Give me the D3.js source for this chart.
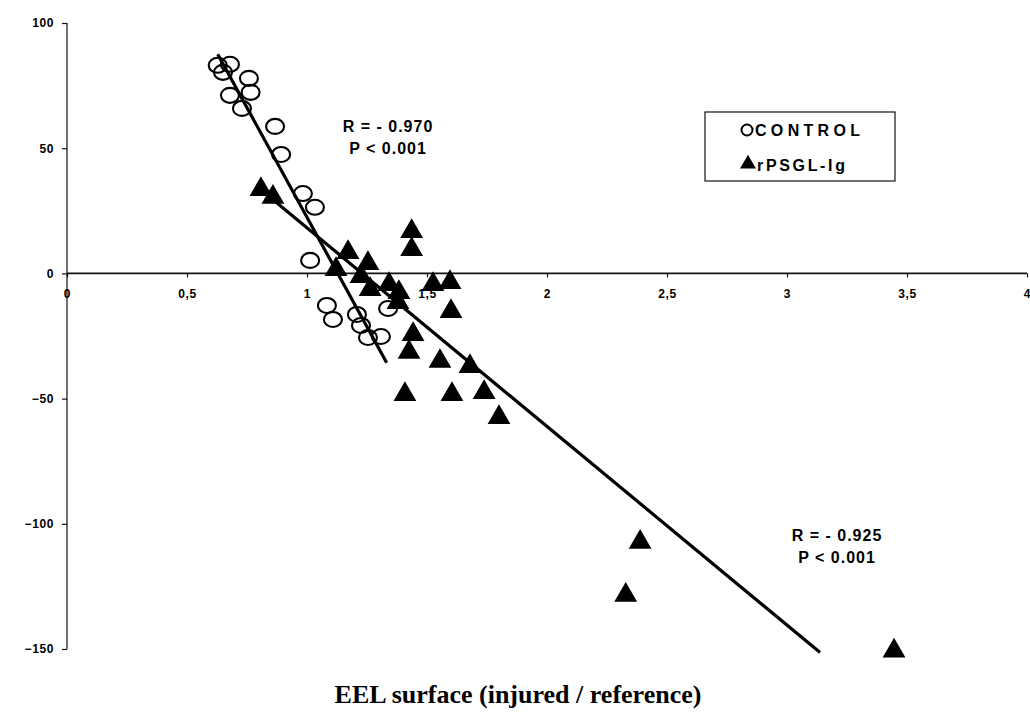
<!DOCTYPE html>
<html>
<head>
<meta charset="utf-8">
<script src="https://cdn.jsdelivr.net/npm/d3@7"></script>
<style>
  html, body { margin: 0; padding: 0; background: #fff; }
  svg { display: block; }
</style>
</head>
<body>
<svg id="chart" width="1030" height="719"></svg>
<script>
// ---- data ----
const controlX = [0.628, 0.679, 0.650, 0.758, 0.679, 0.765, 0.729, 0.867, 0.892, 0.983, 1.033, 1.013, 1.083, 1.108, 1.208, 1.225, 1.254, 1.308, 1.338];
const controlY = [83.1, 83.5, 80.3, 77.9, 71.1, 72.3, 65.9, 58.7, 47.5, 31.9, 26.4, 5.2, -12.8, -18.4, -16.4, -20.8, -25.6, -25.2, -14.0];
const psglX = [0.808, 0.858, 1.171, 1.121, 1.254, 1.225, 1.263, 1.342, 1.383, 1.379, 1.436, 1.436, 1.525, 1.596, 1.600, 1.442, 1.425, 1.554, 1.679, 1.408, 1.604, 1.738, 1.800, 2.388, 2.328, 3.446];
const psglY = [33.5, 30.4, 8.4, 1.6, 4.0, -1.2, -6.4, -4.4, -7.6, -11.6, 16.8, 9.6, -4.4, -3.6, -15.2, -24.4, -31.5, -35.1, -37.1, -48.3, -48.3, -47.5, -57.5, -107.3, -128.5, -150.8];
// regression line endpoints [x, y]
const controlFit = [[0.628, 87.5], [1.332, -35.7]];
const psglFit = [[0.792, 34.7], [3.138, -151.4]];
const xTicks = [0, 0.5, 1, 1.5, 2, 2.5, 3, 3.5, 4];
const xTickLabels = ["0", "0,5", "1", "1,5", "2", "2,5", "3", "3,5", "4"];
const yTicks = [100, 50, 0, -50, -100, -150];
const seriesNames = ["CONTROL", "rPSGL-Ig"];
const stats1 = ["R = - 0.970", "P < 0.001"];
const stats2 = ["R = - 0.925", "P < 0.001"];
const xTitle = "EEL surface (injured / reference)";

// ---- scales ----
const svg = d3.select("#chart");
const x = d3.scaleLinear().domain([0, 4]).range([67, 1027]);
const y = d3.scaleLinear().domain([-150, 100]).range([649, 23]);

const sansBold = "'Liberation Sans', Arial, sans-serif";

// Y axis
const yAxis = svg.append("g")
  .attr("transform", `translate(${x(0)},0)`)
  .call(d3.axisLeft(y).tickValues(yTicks).tickSize(5).tickPadding(8).tickFormat(d3.format("d")));
yAxis.select(".domain").attr("stroke", "#111").attr("stroke-width", 1.2).attr("d", `M0,${y(100)}V${y(-150)}`);
yAxis.selectAll(".tick line").attr("stroke", "#111").attr("stroke-width", 1.2);
yAxis.selectAll("text")
  .attr("font-family", sansBold).attr("font-weight", "bold").attr("font-size", 12)
  .attr("letter-spacing", 0.6).attr("fill", "#000");

// X axis at y=0
const xAxis = svg.append("g")
  .attr("transform", `translate(0,${y(0)})`)
  .call(d3.axisBottom(x).tickValues(xTicks).tickSize(4).tickPadding(12)
    .tickFormat((d, i) => xTickLabels[i]));
xAxis.select(".domain").attr("stroke", "#111").attr("stroke-width", 1.6).attr("d", `M${x(0)},0H${x(4)}`);
xAxis.selectAll(".tick line").attr("stroke", "#111").attr("stroke-width", 1.2);
xAxis.selectAll("text")
  .attr("font-family", sansBold).attr("font-weight", "bold").attr("font-size", 12)
  .attr("letter-spacing", 0.6).attr("fill", "#000");

// Regression lines
const line = d3.line().x(d => x(d[0])).y(d => y(d[1]));
svg.append("path").datum(controlFit).attr("d", line)
  .attr("stroke", "#000").attr("stroke-width", 3.2).attr("fill", "none");
svg.append("path").datum(psglFit).attr("d", line)
  .attr("stroke", "#000").attr("stroke-width", 3.2).attr("fill", "none");

// Control circles
svg.append("g").selectAll("ellipse")
  .data(controlX.map((d, i) => [d, controlY[i]]))
  .join("ellipse")
  .attr("cx", d => x(d[0])).attr("cy", d => y(d[1]))
  .attr("rx", 9).attr("ry", 7.5)
  .attr("fill", "none").attr("stroke", "#000").attr("stroke-width", 2.1);

// rPSGL triangles
const tri = d3.symbol().type(d3.symbolTriangle).size(225);
svg.append("g").selectAll("path")
  .data(psglX.map((d, i) => [d, psglY[i]]))
  .join("path")
  .attr("d", tri)
  .attr("transform", d => `translate(${x(d[0])},${y(d[1])})`)
  .attr("fill", "#000");

// Stats text
function stats(lines, cx, by) {
  svg.append("g").selectAll("text").data(lines).join("text")
    .attr("x", cx).attr("y", (d, i) => by + i * 22)
    .attr("text-anchor", "middle")
    .attr("font-family", sansBold).attr("font-weight", "bold").attr("font-size", 16)
    .attr("letter-spacing", 1).attr("fill", "#000")
    .text(d => d);
}
stats(stats1, 388, 132);
stats(stats2, 837, 541);

// Legend
const lg = svg.append("g");
lg.append("rect").attr("x", 705).attr("y", 112).attr("width", 190).attr("height", 69)
  .attr("fill", "#fff").attr("stroke", "#111").attr("stroke-width", 1.2);
lg.append("ellipse").attr("cx", 747).attr("cy", 130).attr("rx", 5.5).attr("ry", 5.5)
  .attr("fill", "none").attr("stroke", "#000").attr("stroke-width", 2);
lg.append("path").attr("d", d3.symbol().type(d3.symbolTriangle).size(110))
  .attr("transform", "translate(748,164)").attr("fill", "#000");
lg.append("text").attr("x", 755).attr("y", 136).text(seriesNames[0])
  .attr("font-family", sansBold).attr("font-weight", "bold").attr("font-size", 16)
  .attr("textLength", 105).attr("lengthAdjust", "spacing").attr("fill", "#000");
lg.append("text").attr("x", 757).attr("y", 171).text(seriesNames[1])
  .attr("font-family", sansBold).attr("font-weight", "bold").attr("font-size", 16)
  .attr("textLength", 88).attr("lengthAdjust", "spacing").attr("fill", "#000");

// X title
svg.append("text").attr("x", 518).attr("y", 703).attr("text-anchor", "middle")
  .attr("font-family", "'Liberation Serif', 'Times New Roman', serif")
  .attr("font-weight", "bold").attr("font-size", 26).attr("fill", "#000")
  .text(xTitle);
</script>
</body>
</html>
